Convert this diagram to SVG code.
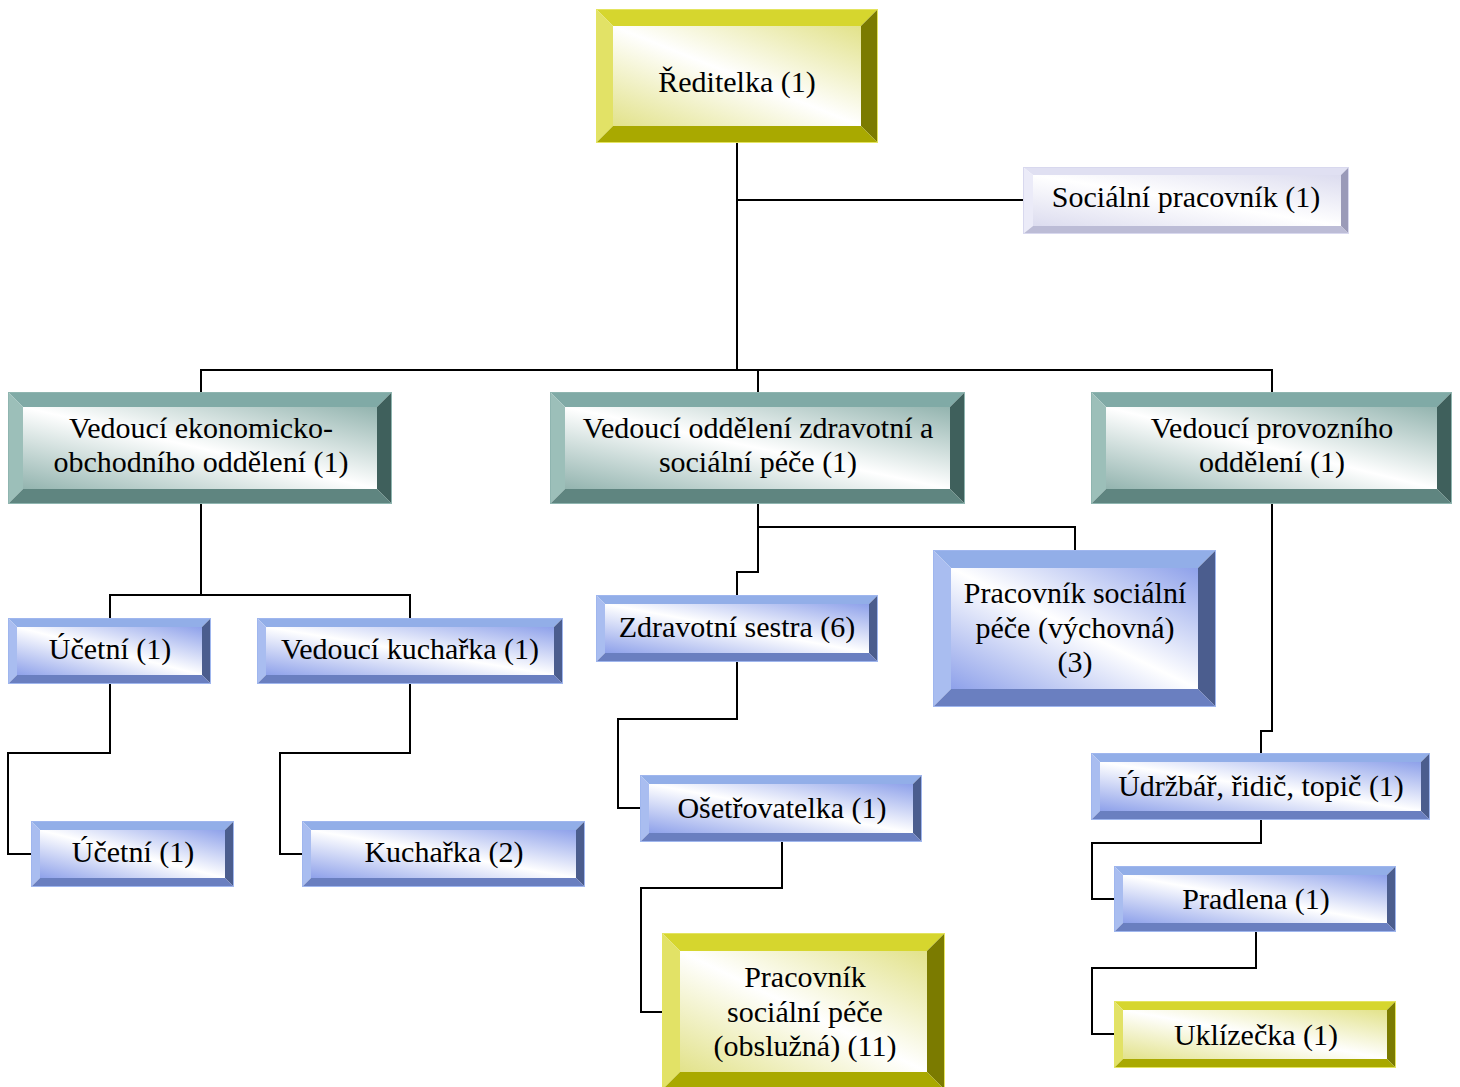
<svg xmlns="http://www.w3.org/2000/svg" width="1460" height="1087" viewBox="0 0 1460 1087" font-family="'Liberation Serif', 'Times New Roman', 'DejaVu Serif', serif">
<style>
text{font-family:'Liberation Serif','Times New Roman','DejaVu Serif',serif;font-size:30px;fill:#000;text-anchor:middle}
.c{fill:none;stroke:#000;stroke-width:2}
.y .t{fill:#d6d62e}.y .l{fill:#e2e266}.y .r{fill:#7b7b00}.y .b{fill:#a9a900}.y .i{fill:url(#gy)}.y .o{fill:none;stroke:#e4e460;stroke-width:1}
.v .t{fill:#e0e0f2}.v .l{fill:#ebebf8}.v .r{fill:#9a9ab8}.v .b{fill:#bcbcd6}.v .i{fill:url(#gv)}.v .o{fill:none;stroke:#d8d8ee;stroke-width:1}
.g .t{fill:#80aaa6}.g .l{fill:#9cbfb9}.g .r{fill:#3f605c}.g .b{fill:#5f8580}.g .i{fill:url(#gg)}.g .o{fill:none;stroke:#8fb5b0;stroke-width:1}
.bl .t{fill:#92aee8}.bl .l{fill:#a9bdf0}.bl .r{fill:#4b5d8e}.bl .b{fill:#6a7fc0}.bl .i{fill:url(#gb)}.bl .o{fill:none;stroke:#9fb6ee;stroke-width:1}
</style>
<defs>
<linearGradient id="gy" x1="1" y1="0" x2="0" y2="1"><stop offset="0" stop-color="#e2e28a"/><stop offset="0.5" stop-color="#ffffff"/><stop offset="1" stop-color="#e2e28a"/></linearGradient>
<linearGradient id="gv" x1="1" y1="0" x2="0" y2="1"><stop offset="0" stop-color="#dcdcef"/><stop offset="0.5" stop-color="#ffffff"/><stop offset="1" stop-color="#dcdcef"/></linearGradient>
<linearGradient id="gg" x1="1" y1="0" x2="0" y2="1"><stop offset="0" stop-color="#93b4af"/><stop offset="0.5" stop-color="#ffffff"/><stop offset="1" stop-color="#93b4af"/></linearGradient>
<linearGradient id="gb" x1="1" y1="0" x2="0" y2="1"><stop offset="0" stop-color="#8ea1ea"/><stop offset="0.5" stop-color="#ffffff"/><stop offset="1" stop-color="#8ea1ea"/></linearGradient>
</defs>

<g id="connectors">
<path class="c" d="M737,143 V370 M737,200 H1023 M201,392 V370 H1272 V392 M758,370 V392"/>
<path class="c" d="M201,504 V595 M110,618 V595 H410 V618"/>
<path class="c" d="M110,684 V753 H8 V854 H31"/>
<path class="c" d="M410,684 V753 H280 V854 H302"/>
<path class="c" d="M758,504 V572 H737 V595 M758,527 H1075 V550"/>
<path class="c" d="M737,662 V719 H618 V808 H640"/>
<path class="c" d="M782,842 V888 H641 V1012 H662"/>
<path class="c" d="M1272,504 V731 H1261 V753"/>
<path class="c" d="M1261,820 V843 H1092 V899 H1114"/>
<path class="c" d="M1256,932 V968 H1092 V1034 H1114"/>
</g>

<g id="n-reditelka" class="y">
<polygon class="t" points="596,9 878,9 861,26 613,26"/>
<polygon class="l" points="596,9 613,26 613,126 596,143"/>
<polygon class="r" points="878,9 878,143 861,126 861,26"/>
<polygon class="b" points="596,143 878,143 861,126 613,126"/>
<rect class="i" x="613" y="26" width="248" height="100"/>
<rect class="o" x="596.5" y="9.5" width="281" height="133"/>
<text x="737" y="92">Ředitelka (1)</text>
</g>

<g id="n-socialni" class="v">
<polygon class="t" points="1023,167 1349,167 1341,175 1033,175"/>
<polygon class="l" points="1023,167 1033,175 1033,226 1023,234"/>
<polygon class="r" points="1349,167 1349,234 1341,226 1341,175"/>
<polygon class="b" points="1023,234 1349,234 1341,226 1033,226"/>
<rect class="i" x="1033" y="175" width="308" height="51"/>
<rect class="o" x="1023.5" y="167.5" width="325" height="66"/>
<text x="1186" y="207">Sociální pracovník (1)</text>
</g>

<g id="n-ekonom" class="g">
<polygon class="t" points="8,392 392,392 377,407 23,407"/>
<polygon class="l" points="8,392 23,407 23,489 8,504"/>
<polygon class="r" points="392,392 392,504 377,489 377,407"/>
<polygon class="b" points="8,504 392,504 377,489 23,489"/>
<rect class="i" x="23" y="407" width="354" height="82"/>
<rect class="o" x="8.5" y="392.5" width="383" height="111"/>
<text x="201" y="438">Vedoucí ekonomicko-</text>
<text x="201" y="472">obchodního oddělení (1)</text>
</g>

<g id="n-zdrav" class="g">
<polygon class="t" points="550,392 965,392 950,407 565,407"/>
<polygon class="l" points="550,392 565,407 565,489 550,504"/>
<polygon class="r" points="965,392 965,504 950,489 950,407"/>
<polygon class="b" points="550,504 965,504 950,489 565,489"/>
<rect class="i" x="565" y="407" width="385" height="82"/>
<rect class="o" x="550.5" y="392.5" width="414" height="111"/>
<text x="758" y="438">Vedoucí oddělení zdravotní a</text>
<text x="758" y="472">sociální péče (1)</text>
</g>

<g id="n-provoz" class="g">
<polygon class="t" points="1091,392 1452,392 1437,407 1106,407"/>
<polygon class="l" points="1091,392 1106,407 1106,489 1091,504"/>
<polygon class="r" points="1452,392 1452,504 1437,489 1437,407"/>
<polygon class="b" points="1091,504 1452,504 1437,489 1106,489"/>
<rect class="i" x="1106" y="407" width="331" height="82"/>
<rect class="o" x="1091.5" y="392.5" width="360" height="111"/>
<text x="1272" y="438">Vedoucí provozního</text>
<text x="1272" y="472">oddělení (1)</text>
</g>

<g id="n-ucetni1" class="bl">
<polygon class="t" points="8,618 211,618 202,627 17,627"/>
<polygon class="l" points="8,618 17,627 17,675 8,684"/>
<polygon class="r" points="211,618 211,684 202,675 202,627"/>
<polygon class="b" points="8,684 211,684 202,675 17,675"/>
<rect class="i" x="17" y="627" width="185" height="48"/>
<rect class="o" x="8.5" y="618.5" width="202" height="65"/>
<text x="110" y="659">Účetní (1)</text>
</g>

<g id="n-vedkuch" class="bl">
<polygon class="t" points="257,618 563,618 554,627 266,627"/>
<polygon class="l" points="257,618 266,627 266,675 257,684"/>
<polygon class="r" points="563,618 563,684 554,675 554,627"/>
<polygon class="b" points="257,684 563,684 554,675 266,675"/>
<rect class="i" x="266" y="627" width="288" height="48"/>
<rect class="o" x="257.5" y="618.5" width="305" height="65"/>
<text x="410" y="659">Vedoucí kuchařka (1)</text>
</g>

<g id="n-ucetni2" class="bl">
<polygon class="t" points="31,821 234,821 225,830 40,830"/>
<polygon class="l" points="31,821 40,830 40,878 31,887"/>
<polygon class="r" points="234,821 234,887 225,878 225,830"/>
<polygon class="b" points="31,887 234,887 225,878 40,878"/>
<rect class="i" x="40" y="830" width="185" height="48"/>
<rect class="o" x="31.5" y="821.5" width="202" height="65"/>
<text x="133" y="862">Účetní (1)</text>
</g>

<g id="n-kucharka" class="bl">
<polygon class="t" points="302,821 585,821 576,830 311,830"/>
<polygon class="l" points="302,821 311,830 311,878 302,887"/>
<polygon class="r" points="585,821 585,887 576,878 576,830"/>
<polygon class="b" points="302,887 585,887 576,878 311,878"/>
<rect class="i" x="311" y="830" width="265" height="48"/>
<rect class="o" x="302.5" y="821.5" width="282" height="65"/>
<text x="444" y="862">Kuchařka (2)</text>
</g>

<g id="n-sestra" class="bl">
<polygon class="t" points="596,595 878,595 869,604 605,604"/>
<polygon class="l" points="596,595 605,604 605,653 596,662"/>
<polygon class="r" points="878,595 878,662 869,653 869,604"/>
<polygon class="b" points="596,662 878,662 869,653 605,653"/>
<rect class="i" x="605" y="604" width="264" height="49"/>
<rect class="o" x="596.5" y="595.5" width="281" height="66"/>
<text x="737" y="637">Zdravotní sestra (6)</text>
</g>

<g id="n-osetrovatelka" class="bl">
<polygon class="t" points="640,775 922,775 913,784 649,784"/>
<polygon class="l" points="640,775 649,784 649,833 640,842"/>
<polygon class="r" points="922,775 922,842 913,833 913,784"/>
<polygon class="b" points="640,842 922,842 913,833 649,833"/>
<rect class="i" x="649" y="784" width="264" height="49"/>
<rect class="o" x="640.5" y="775.5" width="281" height="66"/>
<text x="782" y="818">Ošetřovatelka (1)</text>
</g>

<g id="n-vychovna" class="bl">
<polygon class="t" points="933,550 1216,550 1198,568 951,568"/>
<polygon class="l" points="933,550 951,568 951,689 933,707"/>
<polygon class="r" points="1216,550 1216,707 1198,689 1198,568"/>
<polygon class="b" points="933,707 1216,707 1198,689 951,689"/>
<rect class="i" x="951" y="568" width="247" height="121"/>
<rect class="o" x="933.5" y="550.5" width="282" height="156"/>
<text x="1075" y="603">Pracovník sociální</text>
<text x="1075" y="638">péče (výchovná)</text>
<text x="1075" y="672">(3)</text>
</g>

<g id="n-obsluzna" class="y">
<polygon class="t" points="662,933 945,933 927,951 680,951"/>
<polygon class="l" points="662,933 680,951 680,1072 662,1090"/>
<polygon class="r" points="945,933 945,1090 927,1072 927,951"/>
<polygon class="b" points="662,1090 945,1090 927,1072 680,1072"/>
<rect class="i" x="680" y="951" width="247" height="121"/>
<rect class="o" x="662.5" y="933.5" width="282" height="156"/>
<text x="805" y="987">Pracovník</text>
<text x="805" y="1022">sociální péče</text>
<text x="805" y="1056">(obslužná) (11)</text>
</g>

<g id="n-udrzbar" class="bl">
<polygon class="t" points="1091,753 1430,753 1421,762 1100,762"/>
<polygon class="l" points="1091,753 1100,762 1100,811 1091,820"/>
<polygon class="r" points="1430,753 1430,820 1421,811 1421,762"/>
<polygon class="b" points="1091,820 1430,820 1421,811 1100,811"/>
<rect class="i" x="1100" y="762" width="321" height="49"/>
<rect class="o" x="1091.5" y="753.5" width="338" height="66"/>
<text x="1261" y="796">Údržbář, řidič, topič (1)</text>
</g>

<g id="n-pradlena" class="bl">
<polygon class="t" points="1114,866 1396,866 1387,875 1123,875"/>
<polygon class="l" points="1114,866 1123,875 1123,923 1114,932"/>
<polygon class="r" points="1396,866 1396,932 1387,923 1387,875"/>
<polygon class="b" points="1114,932 1396,932 1387,923 1123,923"/>
<rect class="i" x="1123" y="875" width="264" height="48"/>
<rect class="o" x="1114.5" y="866.5" width="281" height="65"/>
<text x="1256" y="909">Pradlena (1)</text>
</g>

<g id="n-uklizecka" class="y">
<polygon class="t" points="1114,1001 1396,1001 1387,1010 1123,1010"/>
<polygon class="l" points="1114,1001 1123,1010 1123,1059 1114,1068"/>
<polygon class="r" points="1396,1001 1396,1068 1387,1059 1387,1010"/>
<polygon class="b" points="1114,1068 1396,1068 1387,1059 1123,1059"/>
<rect class="i" x="1123" y="1010" width="264" height="49"/>
<rect class="o" x="1114.5" y="1001.5" width="281" height="66"/>
<text x="1256" y="1045">Uklízečka (1)</text>
</g>
</svg>
